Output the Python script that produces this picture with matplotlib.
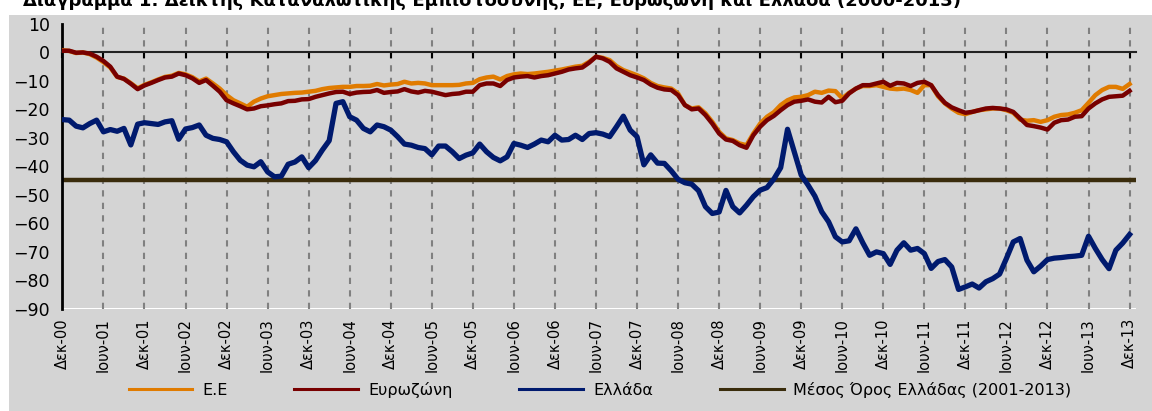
import matplotlib
matplotlib.use("Agg")
import matplotlib.pyplot as plt
from matplotlib.patches import Rectangle

plt.rcParams['font.family'] = ['DejaVu Sans']

# monthly index, Dec 2000 .. Dec 2013
eu = [0.8, 0.5, -0.2, 0.0, -0.6, -1.8, -3.4, -5.3, -8.6, -9.2, -10.8, -12.6,
      -11.4, -10.5, -9.5, -8.6, -8.2, -7.2, -7.7, -8.7, -10.2, -9.2, -10.9, -12.7,
      -15.0, -16.8, -17.9, -19.1, -17.3, -16.2, -15.4, -15.0, -14.6, -14.4, -14.2, -14.1,
      -13.8, -13.5, -12.9, -12.5, -12.3, -12.1, -12.1, -11.8, -11.8, -11.7, -11.1, -11.6,
      -11.3, -11.1, -10.3, -10.9, -10.7, -10.9, -11.5, -11.5, -11.5, -11.5, -11.4, -10.9,
      -10.7, -9.4, -8.8, -8.5, -9.5, -8.3, -7.7, -7.4, -7.6, -7.4, -7.1, -6.8,
      -6.4, -6.0, -5.5, -5.0, -4.7, -3.3, -1.5, -1.9, -2.7, -4.8, -6.2, -7.1,
      -8.0, -9.1, -10.7, -11.8, -12.3, -12.7, -14.4, -18.5, -19.7, -19.3, -21.4, -24.4,
      -27.9, -30.2, -30.8, -32.0, -32.6, -28.5, -25.0, -22.6, -21.0, -18.5, -16.8, -15.8,
      -15.6, -15.0, -13.8, -14.2, -13.4, -13.6, -16.1, -14.2, -12.7, -11.8, -11.8, -11.5,
      -12.1, -12.7, -12.9, -12.7, -13.2, -14.2, -11.5, -11.5, -15.4, -17.9, -19.7, -21.2,
      -21.7, -20.9, -20.3, -20.0, -19.7, -19.7, -20.3, -21.2, -23.6, -24.0, -23.8, -24.4,
      -23.8, -22.6, -22.0, -21.8, -21.2, -20.3, -17.7, -15.0, -13.2, -12.1, -12.1, -12.8,
      -11.1]

eurozone = [0.6, 0.6, -0.1, 0.0, -0.4, -1.5, -3.0, -5.0, -8.5, -9.3, -11.0, -12.9,
            -11.6, -10.7, -9.7, -8.8, -8.5, -7.4, -8.0, -9.1, -10.7, -9.7, -11.7, -13.8,
            -16.8, -17.9, -18.9, -20.0, -19.7, -18.9, -18.6, -18.2, -17.9, -17.1, -17.0, -16.5,
            -16.4, -15.6, -15.0, -14.4, -13.9, -13.8, -14.6, -14.1, -13.9, -13.8, -13.2, -14.2,
            -13.9, -13.7, -12.9, -13.7, -14.1, -13.5, -13.8, -14.4, -15.0, -14.6, -14.4, -13.8,
            -13.8, -11.5, -10.9, -10.9, -11.8, -9.7, -8.8, -8.5, -8.3, -8.8, -8.3, -8.0,
            -7.4, -6.8, -6.0, -5.6, -5.3, -3.6, -1.5, -2.1, -3.3, -5.6, -6.8, -8.0,
            -8.8, -9.7, -11.3, -12.4, -13.0, -13.2, -15.0, -18.5, -20.0, -19.7, -22.0, -25.0,
            -28.5, -30.6, -31.1, -32.6, -33.5, -29.1, -26.1, -23.8, -22.3, -20.3, -18.5, -17.3,
            -17.0, -16.5, -17.3, -17.6, -15.6, -17.5, -17.0, -14.4, -12.7, -11.5, -11.5, -10.9,
            -10.3, -11.7, -10.7, -10.9, -11.8, -10.7, -10.3, -11.5, -15.0, -17.7, -19.3, -20.3,
            -21.2, -20.9, -20.3, -19.7, -19.5, -19.7, -20.0, -20.9, -23.2, -25.5, -25.9, -26.4,
            -27.1, -24.7, -23.8, -23.6, -22.6, -22.4, -19.7, -17.9, -16.5, -15.6, -15.4, -15.2,
            -13.5]

greece = [-23.6, -23.8, -25.9, -26.5, -25.0, -23.8, -27.9, -27.1, -27.7, -26.7, -32.5, -25.2,
          -24.7, -25.0, -25.3, -24.4, -24.0, -30.5, -26.9, -26.4, -25.5, -29.1, -30.2, -30.6,
          -31.4, -34.9, -37.9, -39.6, -40.2, -38.4, -42.0, -43.7, -43.5, -39.3, -38.5, -36.7,
          -40.5, -38.0, -34.3, -31.0, -17.9, -17.3, -22.6, -23.8, -26.7, -27.9, -25.5, -26.1,
          -27.3, -29.6, -32.2, -32.6, -33.4, -33.8, -36.0, -32.9, -32.9, -34.9, -37.3, -36.1,
          -35.3, -32.2, -34.9, -36.9, -38.1, -36.7, -32.0, -32.6, -33.4, -32.2, -30.8, -31.4,
          -29.1, -30.8, -30.6, -29.1, -30.6, -28.5, -28.2, -28.7, -29.6, -26.1, -22.4, -27.3,
          -29.6, -39.5, -36.0, -38.9, -39.0, -41.6, -44.6, -45.8, -46.3, -48.6, -54.2, -56.6,
          -56.1, -48.5, -54.2, -56.4, -53.7, -50.7, -48.4, -47.5, -44.5, -40.5, -27.0, -35.0,
          -43.1, -46.6, -50.5, -56.0, -59.5, -64.8, -66.6, -66.2, -62.0, -66.9, -71.3, -70.1,
          -70.7, -74.5, -69.5, -66.9, -69.5, -68.9, -70.7, -75.9, -73.5, -72.8, -75.4, -83.3,
          -82.4, -81.4, -82.8, -80.6, -79.5, -77.9, -72.4, -66.6, -65.4, -73.0, -77.1, -75.1,
          -72.8, -72.3, -72.1, -71.8, -71.6, -71.3, -64.6, -68.9, -72.8, -76.0, -69.5, -67.0,
          -64.0]

greece_mean = -45.0  # Μέσος Όρος Ελλάδας (2001-2013)

tick_labels = ["Δεκ-00", "Ιουν-01", "Δεκ-01", "Ιουν-02", "Δεκ-02", "Ιουν-03", "Δεκ-03",
               "Ιουν-04", "Δεκ-04", "Ιουν-05", "Δεκ-05", "Ιουν-06", "Δεκ-06", "Ιουν-07",
               "Δεκ-07", "Ιουν-08", "Δεκ-08", "Ιουν-09", "Δεκ-09", "Ιουν-10", "Δεκ-10",
               "Ιουν-11", "Δεκ-11", "Ιουν-12", "Δεκ-12", "Ιουν-13", "Δεκ-13"]

title = "Διάγραμμα 1: Δείκτης Καταναλωτικής Εμπιστοσύνης, ΕΕ, Ευρωζώνη και Ελλάδα (2000-2013)"

assert len(eu) == len(eurozone) == len(greece) == 157

W, H = 1152, 411
fig = plt.figure(figsize=(W / 100, H / 100), dpi=100)
fig.patch.set_facecolor("white")
# grey chart panel
fig.patches.append(Rectangle((9 / W, 0), 1, (H - 15) / H, transform=fig.transFigure,
                             facecolor="#d4d4d4", edgecolor="none", zorder=-10))

ax = fig.add_axes([62.4 / W, 1 - 308.5 / H, (1136.4 - 62.4) / W, (308.5 - 24) / H])
ax.patch.set_visible(False)

x = list(range(len(greece)))
ax.plot(x, eu, color="#e07b00", lw=3.2, label="Ε.Ε", zorder=3)
ax.plot(x, eurozone, color="#780000", lw=3.2, label="Ευρωζώνη", zorder=4)
ax.plot(x, greece, color="#001a6e", lw=3.8, label="Ελλάδα", zorder=5)
ax.axhline(greece_mean, color="#3a2c0c", lw=3.2,
           label="Μέσος Όρος Ελλάδας (2001-2013)", zorder=2)

ax.set_xlim(0, 157)
ax.set_ylim(-90, 10)
ax.set_yticks(range(-90, 11, 10))
ax.tick_params(axis="y", length=0, pad=9, labelsize=12.5)

tick_pos = list(range(0, 157, 6))
ax.set_xticks(tick_pos)
ax.tick_params(axis="x", direction="out", length=4, width=1.5, labelbottom=False)
ax.grid(axis="x", color="#808080", ls=(0, (3, 3)), lw=1.5)

for s in ["top", "right"]:
    ax.spines[s].set_visible(False)
ax.spines["left"].set_linewidth(2)
ax.spines["bottom"].set_position(("data", 0))
ax.spines["bottom"].set_linewidth(1.5)
ax.spines["bottom"].set_color("#222222")

# labels sit at the bottom of the plot, the axis line at zero
sec = ax.secondary_xaxis(0.0)
sec.set_xticks(tick_pos, labels=tick_labels, rotation=90)
sec.tick_params(length=0, pad=7, labelsize=10.5)
sec.spines["bottom"].set_visible(False)

handles, labels = ax.get_legend_handles_labels()
leg = fig.legend(handles, labels, loc="center", bbox_to_anchor=(600 / W, 1 - 390 / H),
                 ncol=4, frameon=False, handlelength=4.0, columnspacing=4.2,
                 handletextpad=0.6, fontsize=11.5)
for l in leg.get_lines():
    l.set_linewidth(2.2)

# title is clipped by the top edge, as in the source image
fig.text(23 / W, 1 - 6 / H, title, fontweight="bold", fontsize=13, va="baseline", ha="left")

fig.savefig("out.png", dpi=100)
